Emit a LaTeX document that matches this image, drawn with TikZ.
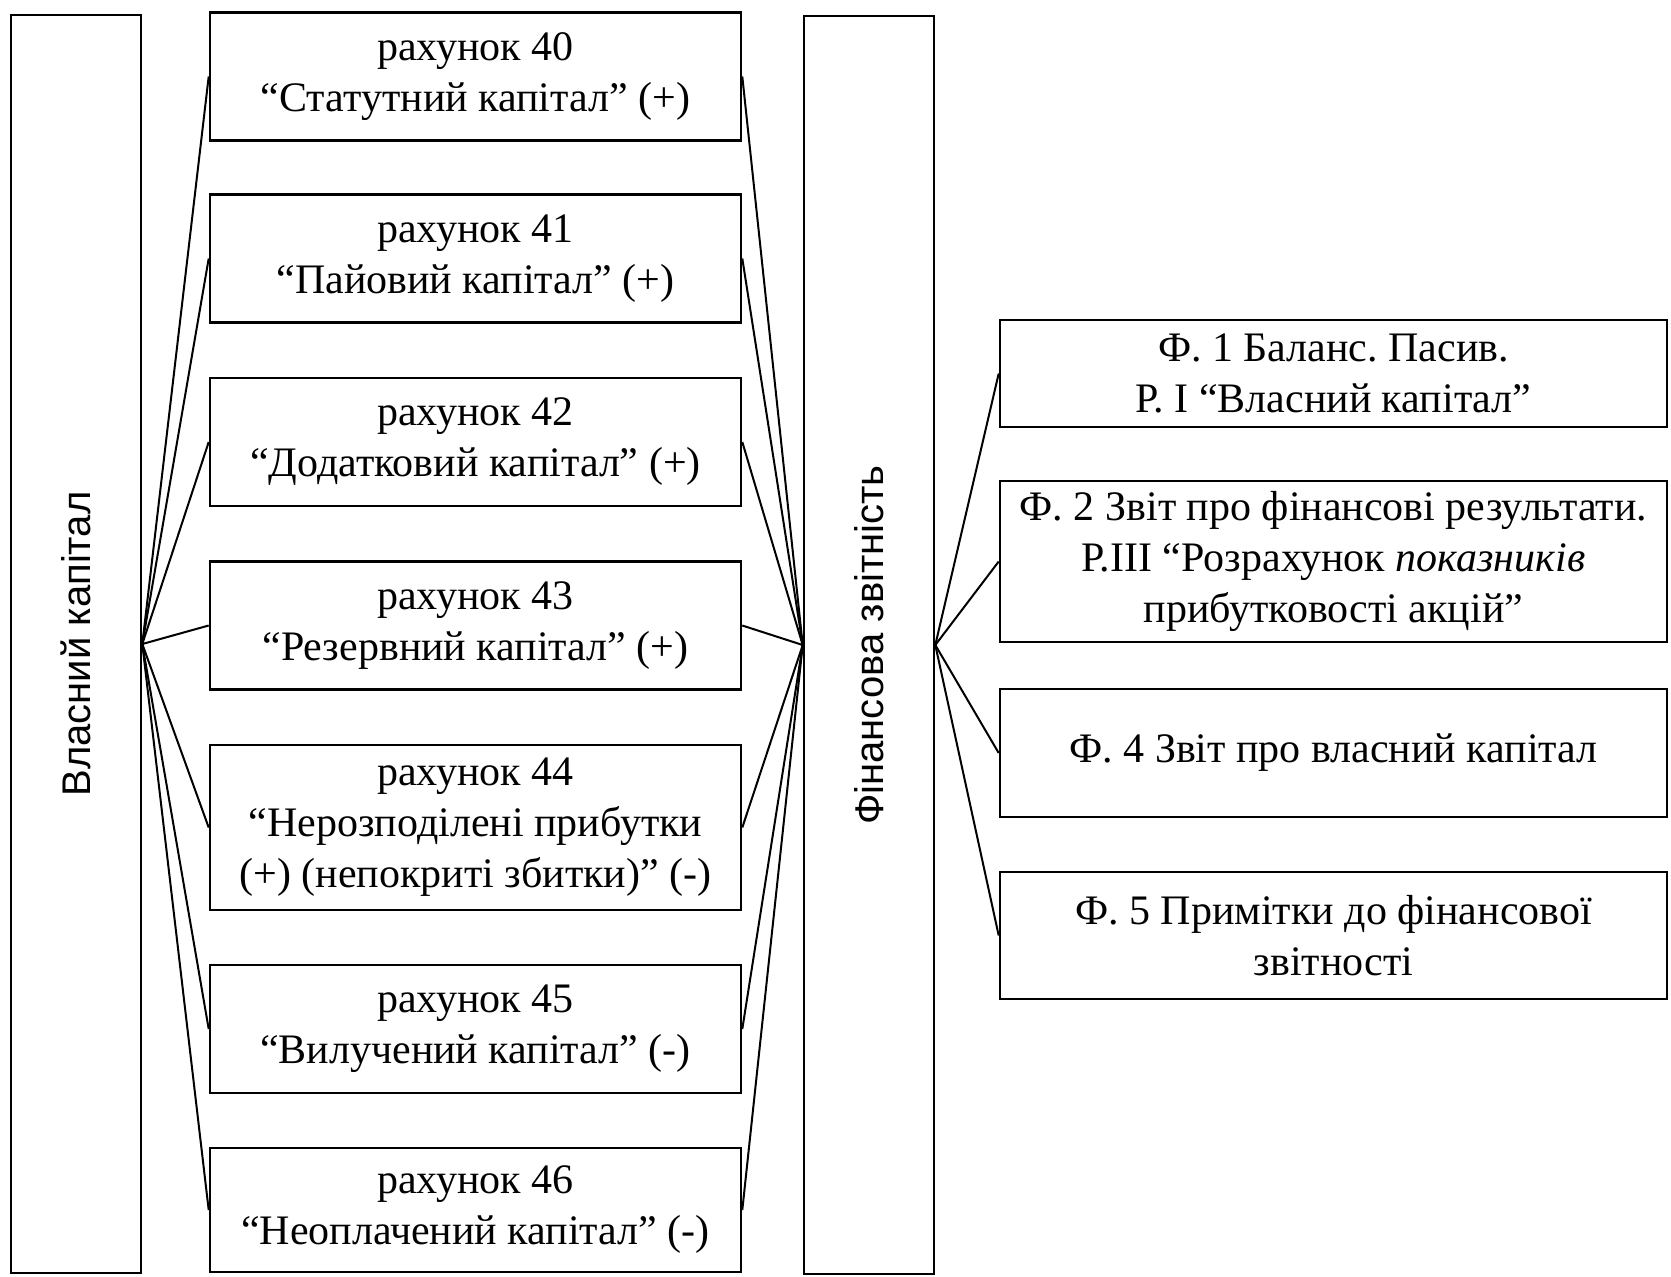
\documentclass[tikz,border=0pt]{standalone}
\usepackage{fontspec}
\setmainfont{Liberation Serif}
\newfontfamily\sidefont{Liberation Sans}
\usepackage{tikz}
\frenchspacing
\tikzstyle{acc} = [draw, line width=1.3pt, minimum width=265.5pt, minimum height=64pt, inner sep=0pt, align=center, font=\fontsize{21}{25.5}\selectfont]
\tikzstyle{frm} = [draw, line width=1.3pt, minimum width=333.5pt, inner sep=0pt, align=center, font=\fontsize{21}{25.5}\selectfont]
\tikzstyle{side} = [draw, line width=1.3pt, minimum width=65pt, minimum height=629pt, inner sep=0pt, font=\sidefont\fontsize{20}{20}\selectfont]
\tikzstyle{ln} = [line width=1pt]

\begin{document}
\begin{tikzpicture}[x=0.5pt,y=-0.5pt]
			\useasboundingbox (0,0) rectangle (1671,1276);
			\node[side] (vk) at (76,644) {\rotatebox{90}{Власний капітал}};
			\node[side] (fz) at (869,645) {\rotatebox{90}{Фінансова звітність}};
			\node[acc] (r1) at (475.5,76.5) {рахунок 40\\“Статутний капітал” (+)};
			\node[acc] (r2) at (475.5,258.5) {рахунок 41\\“Пайовий капітал” (+)};
			\node[acc] (r3) at (475.5,442) {рахунок 42\\“Додатковий капітал” (+)};
			\node[acc] (r4) at (475.5,625.5) {рахунок 43\\“Резервний капітал” (+)};
			\node[acc, minimum height=82.5pt] (r5) at (475.5,827.5) {рахунок 44\\“Нерозподілені прибутки\\(+) (непокриті збитки)” (-)};
			\node[acc] (r6) at (475.5,1029) {рахунок 45\\“Вилучений капітал” (-)};
			\node[acc, minimum height=62pt] (r7) at (475.5,1210) {рахунок 46\\“Неоплачений капітал” (-)};
			\node[frm, minimum height=53.5pt] (f1) at (1333.5,373.5) {Ф. 1 Баланс. Пасив.\\Р. І “Власний капітал”};
			\node[frm, minimum height=80.5pt] (f2) at (1333.5,561.5) {Ф. 2 Звіт про фінансові результати.\\Р.ІІІ “Розрахунок \textit{показників}\\прибутковості акцій”};
			\node[frm, minimum height=64pt] (f3) at (1333.5,753) {Ф. 4 Звіт про власний капітал};
			\node[frm, minimum height=63.5pt] (f4) at (1333.5,935.5) {Ф. 5 Примітки до фінансової\\звітності};
			\foreach \i in {1,...,7} {
				\draw[ln] (vk.east) -- (r\i.west);
				\draw[ln] (r\i.east) -- (fz.west);
			}
			\foreach \i in {1,...,4}
				\draw[ln] (fz.east) -- (f\i.west);
		\end{tikzpicture}
\end{document}
